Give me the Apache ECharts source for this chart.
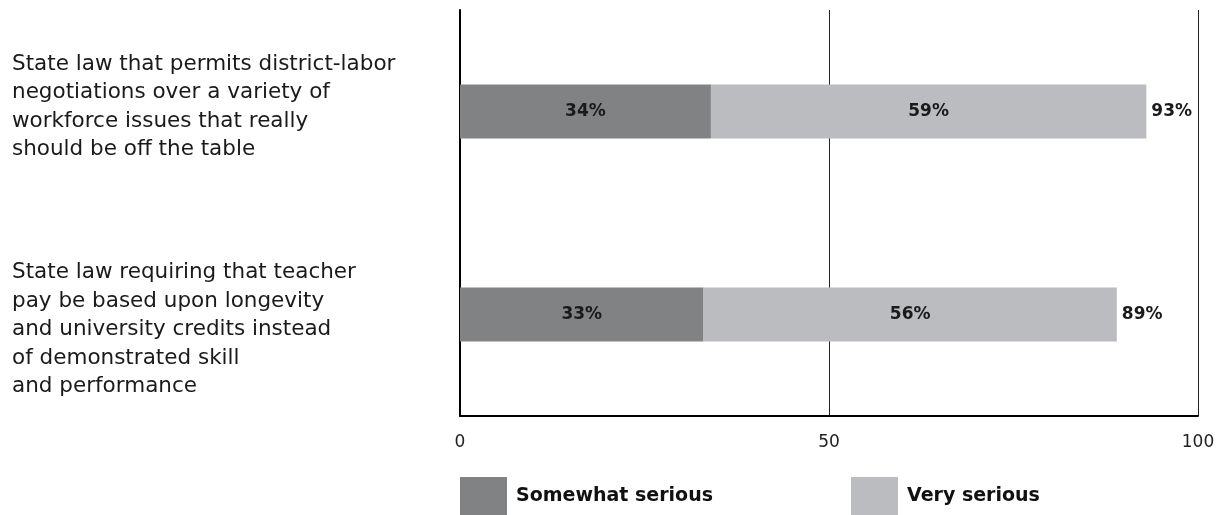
<!DOCTYPE html>
<html>
<head>
<meta charset="utf-8">
<script src="https://cdn.jsdelivr.net/npm/echarts@6/dist/echarts.min.js"></script>
<style>
  html, body { margin: 0; padding: 0; background: #fff; }
  #chart { width: 1222px; height: 515px; }
</style>
</head>
<body>
<div id="chart"></div>
<script>
// Survey items shown as categories (top to bottom)
const categories = [
  'State law that permits district-labor\nnegotiations over a variety of\nworkforce issues that really\nshould be off the table',
  'State law requiring that teacher\npay be based upon longevity\nand university credits instead\nof demonstrated skill\nand performance'
];
const seriesNames = ['Somewhat serious', 'Very serious'];
const somewhatSerious = [34, 33];
const verySerious = [59, 56];
const xTicks = [0, 50, 100];

const FONT = '"DejaVu Sans", sans-serif';
const DARK = '#818284';
const LIGHT = '#bbbcbf';

// small spacer lines nudge each multi-line label to its place beside the bar
const labelText = [
  categories[0] + '\n{sp1| }',
  '{sp2| }\n' + categories[1]
];

const chart = echarts.init(document.getElementById('chart'), null, { renderer: 'canvas' });

chart.setOption({
  animation: false,
  backgroundColor: '#fff',
  grid: { left: 460, right: 24, top: 10, bottom: 99, containLabel: false },
  xAxis: {
    type: 'value',
    min: 0,
    max: 100,
    interval: 50,
    axisLine: { show: true, lineStyle: { color: '#000', width: 2 } },
    axisTick: { show: false },
    splitLine: { show: true, lineStyle: { color: '#222', width: 1 } },
    axisLabel: {
      margin: 18,
      fontFamily: FONT,
      fontSize: 17,
      color: '#222',
      formatter: v => xTicks.includes(v) ? String(v) : ''
    }
  },
  yAxis: {
    type: 'category',
    inverse: true,
    data: categories,
    axisLine: { show: true, lineStyle: { color: '#000', width: 2 } },
    axisTick: { show: false },
    splitLine: { show: false },
    axisLabel: {
      margin: 448,
      align: 'left',
      fontFamily: FONT,
      fontSize: 21.5,
      lineHeight: 28.5,
      color: '#1a1a1a',
      formatter: (v, i) => labelText[i],
      rich: {
        sp1: { fontSize: 2, lineHeight: 9 },
        sp2: { fontSize: 2, lineHeight: 30 }
      }
    }
  },
  legend: [
    {
      data: [seriesNames[0]],
      left: 460, top: 477, padding: 0,
      icon: 'rect', itemWidth: 47, itemHeight: 38,
      selectedMode: false,
      textStyle: { fontFamily: FONT, fontSize: 19, fontWeight: 'bold', color: '#111', padding: [0, 0, 0, 4] }
    },
    {
      data: [seriesNames[1]],
      left: 851, top: 477, padding: 0,
      icon: 'rect', itemWidth: 47, itemHeight: 38,
      selectedMode: false,
      textStyle: { fontFamily: FONT, fontSize: 19, fontWeight: 'bold', color: '#111', padding: [0, 0, 0, 4] }
    }
  ],
  series: [
    {
      name: seriesNames[0],
      type: 'bar',
      stack: 'total',
      barWidth: 54,
      data: somewhatSerious,
      itemStyle: { color: DARK },
      label: {
        show: true,
        position: 'inside',
        fontFamily: FONT,
        fontSize: 17,
        fontWeight: 'bold',
        color: '#1a1a1a',
        formatter: p => p.value + '%'
      }
    },
    {
      name: seriesNames[1],
      type: 'bar',
      stack: 'total',
      barWidth: 54,
      data: verySerious,
      itemStyle: { color: LIGHT },
      label: {
        show: true,
        position: 'inside',
        fontFamily: FONT,
        fontSize: 17,
        fontWeight: 'bold',
        color: '#1a1a1a',
        formatter: p => p.value + '%'
      }
    },
    {
      // total of both segments, written just past the end of each bar
      name: 'total',
      type: 'bar',
      stack: 'total',
      barWidth: 54,
      data: somewhatSerious.map(() => 0),
      itemStyle: { color: 'transparent' },
      label: {
        show: true,
        position: 'right',
        distance: 5,
        fontFamily: FONT,
        fontSize: 17,
        fontWeight: 'bold',
        color: '#1a1a1a',
        formatter: p => (somewhatSerious[p.dataIndex] + verySerious[p.dataIndex]) + '%'
      }
    }
  ]
});
</script>
</body>
</html>
